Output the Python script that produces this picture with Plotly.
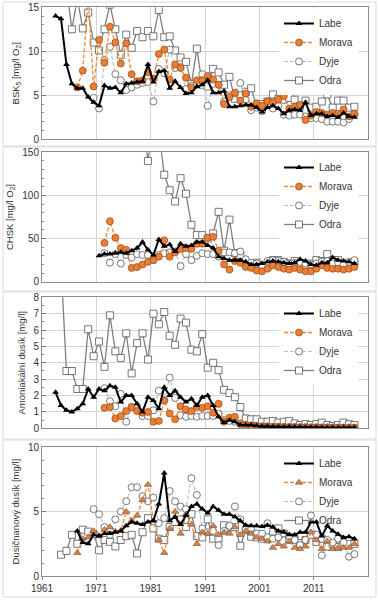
import plotly.graph_objects as go
from plotly.subplots import make_subplots

# ---------------- DATA (annual means) ----------------
series_names = ["Labe", "Morava", "Dyje", "Odra"]
x_tick_labels = ["1961", "1971", "1981", "1991", "2001", "2011"]

# Panel 1: BSK5 [mg/l O2]
bsk_labe_start = 1963
bsk_labe = [14.0, 13.7, 8.5, 6.3, 5.8, 5.8, 4.8, 4.2, 3.8, 6.1,
            5.8, 5.9, 5.3, 6.3, 6.4, 6.5, 6.6, 8.5, 6.5, 7.7,
            7.8, 5.8, 6.6, 5.9, 5.2, 5.3, 6.0, 6.2, 6.7, 5.3,
            5.3, 5.5, 3.7, 3.7, 3.8, 3.9, 3.9, 3.6, 3.1, 3.6,
            3.8, 3.5, 2.9, 3.3, 3.4, 3.3, 4.2, 2.7, 2.9, 2.9,
            2.6, 2.7, 2.5, 3.0, 2.6, 2.5]
bsk_morava_start = 1967
bsk_morava = [5.9, 7.8, 16.0, 6.0, 11.3, 8.7, 12.8, 11.0, 8.6, 10.9,
              7.4, 6.6, 6.7, 7.6, 6.9, 9.7, 10.2, 6.8, 8.5, 8.1,
              7.0, 5.9, 6.7, 6.7, 7.2, 6.8, 6.2, 4.0, 4.8, 5.3,
              4.4, 5.2, 3.7, 4.1, 3.8, 4.3, 4.2, 4.5, 4.9, 3.5,
              3.7, 3.9, 2.2, 2.7, 3.1, 3.0, 2.8, 3.0, 2.9, 3.4,
              2.6, 2.9]
bsk_dyje_start = 1970
bsk_dyje = [4.7, 3.5, 9.0, 10.5, 7.4, 6.7, 5.6, 5.9, 6.2, 6.4,
            6.5, 4.3, 8.0, 7.5, 10.2, 8.1, 8.2, 5.7, 6.1, 6.2,
            7.4, 3.8, 6.3, 6.2, 4.3, 5.0, 5.2, 6.4, 4.5, 3.3,
            3.6, 3.2, 4.0, 3.5, 3.8, 2.8, 2.7, 2.8, 2.8, 2.6,
            2.4, 2.4, 2.3, 2.0, 2.0, 2.0, 1.9, 2.3, 2.8]
bsk_odra_start = 1964
bsk_odra = [22.0, 17.0, 12.5, 16.0, 12.6, 14.4, 11.0, 10.1, 12.5, 15.3,
            12.5, 9.6, 11.9, 10.4, 12.3, 11.6, 12.3, 11.7, 14.7, 11.6,
            11.7, 10.1, 9.3, 8.8, 6.3, 10.3, 6.2, 6.0, 8.0, 7.6,
            6.2, 7.1, 4.6, 5.0, 5.4, 5.8, 3.7, 4.0, 4.3, 5.1,
            4.6, 4.5, 4.7, 4.5, 3.8, 4.4, 3.6, 3.7, 4.3, 5.1,
            3.6, 4.4, 4.4, 3.6, 3.7]

# Panel 2: CHSK [mg/l O2]
chsk_labe_start = 1971
chsk_labe = [30, 32, 32, 33, 34, 33, 36, 39, 46, 37,
             31, 49, 41, 43, 35, 44, 41, 42, 46, 46,
             42, 39, 29, 27, 25, 25, 25, 23, 20, 20,
             21, 23, 24, 23, 22, 21, 22, 26, 24, 20,
             19, 22, 22, 28, 25, 24, 23, 21]
chsk_morava_start = 1972
chsk_morava = [45, 70, 51, 39, 37, 16, 17, 20, 23, 25,
               29, 48, 29, 34, 38, 39, 38, 44, 44, 51,
               52, 36, 20, 14, 24, 22, 17, 16, 13, 12,
               15, 19, 17, 15, 14, 16, 14, 12, 12, 15,
               19, 16, 15, 15, 14, 15, 17]
chsk_dyje_start = 1972
chsk_dyje = [33, 22, 32, 21, 31, 28, 32, 31, 31, 25,
             31, 33, 34, 35, 18, 32, 25, 30, 33, 32,
             32, 29, 34, 34, 33, 35, 26, 22, 21, 19,
             24, 25, 24, 23, 21, 22, 23, 21, 20, 21,
             23, 24, 21, 22, 20, 23, 25]
chsk_odra_start = 1979
chsk_odra = [190, 140, 185, 175, 124, 106, 93, 120, 102, 66,
             54, 54, 50, 56, 81, 36, 72, 33, 31, 21,
             21, 22, 17, 17, 25, 25, 23, 21, 24, 20,
             19, 21, 25, 24, 32, 25, 25, 21, 21, 22]

# Panel 3: Amoniakální dusík [mg/l]
nh4_labe_start = 1963
nh4_labe = [2.2, 1.4, 1.1, 1.0, 1.2, 1.5, 2.4, 1.9, 2.4, 2.3,
            2.6, 2.5, 1.6, 2.0, 2.0, 1.5, 1.0, 1.9, 1.7, 1.2,
            2.5, 2.0, 2.3, 1.9, 1.6, 1.8, 1.4, 1.9, 2.0, 1.4,
            0.7, 0.35, 0.5, 0.4, 0.22, 0.2, 0.2, 0.15, 0.12, 0.12,
            0.1, 0.1, 0.08, 0.1, 0.08, 0.08, 0.07, 0.06, 0.06, 0.05,
            0.05, 0.05, 0.04, 0.05, 0.04, 0.05]
nh4_morava_start = 1972
nh4_morava = [1.25, 1.3, 0.6, 0.75, 1.05, 1.3, 1.05, 0.95, 1.0, 0.4,
              0.45, 1.7, 0.9, 0.55, 1.35, 1.15, 1.05, 1.3, 1.25, 1.35,
              0.95, 1.5, 0.4, 0.65, 0.7, 0.3, 0.2, 0.15, 0.12, 0.1,
              0.1, 0.08, 0.08, 0.07, 0.06, 0.06, 0.05, 0.05, 0.05, 0.05,
              0.04, 0.04, 0.04, 0.03, 0.03, 0.03, 0.03]
nh4_dyje_start = 1972
nh4_dyje = [2.45, 1.65, 1.35, 2.1, 0.4, 1.3, 1.3, 0.75, 0.75, 1.1,
            2.3, 1.7, 3.1, 1.85, 0.8, 0.7, 0.75, 0.7, 0.75, 0.75,
            0.75, 0.9, 0.5, 0.45, 0.4, 0.25, 0.2, 0.18, 0.15, 0.12,
            0.12, 0.1, 0.1, 0.09, 0.08, 0.08, 0.07, 0.07, 0.06, 0.06,
            0.05, 0.05, 0.05, 0.05, 0.04, 0.04, 0.04]
nh4_odra_start = 1964
nh4_odra = [10.0, 3.5, 3.5, 2.4, 2.4, 6.05, 4.4, 5.3, 3.75, 6.9,
            4.7, 4.3, 5.8, 3.35, 5.2, 5.8, 4.2, 7.0, 6.35, 7.1,
            5.65, 5.1, 6.7, 6.45, 4.8, 4.7, 5.75, 3.7, 4.0, 3.55,
            2.35, 2.15, 1.9, 1.3, 0.6, 0.55, 0.55, 0.4, 0.4, 0.45,
            0.35, 0.4, 0.45, 0.3, 0.2, 0.25, 0.2, 0.26, 0.35, 0.2,
            0.15, 0.2, 0.35, 0.25, 0.2]

# Panel 4: Dusičnanový dusík [mg/l]
no3_labe_start = 1967
no3_labe = [3.5, 2.6, 2.5, 3.2, 3.1, 3.3, 3.3, 3.4, 3.5, 3.9,
            4.2, 4.1, 4.0, 4.2, 4.3, 5.6, 8.0, 4.3, 4.6, 4.0,
            4.7, 5.4, 5.6, 5.2, 4.9, 5.4, 5.1, 4.8, 4.8, 4.6,
            4.3, 3.95, 3.9, 3.9, 3.85, 3.95, 3.8, 3.5, 3.4, 3.2,
            3.2, 3.4, 3.4, 4.2, 4.2, 3.1, 3.9, 3.5, 3.25, 3.0,
            3.05, 2.9]
no3_morava_start = 1967
no3_morava = [1.8, 2.9, 3.0, 3.5, 3.1, 3.6, 3.8, 3.45, 3.5, 5.0,
              4.3, 4.7, 5.9, 7.1, 4.3, 2.8, 1.8, 3.7, 5.0, 3.3,
              4.8, 4.0, 2.5, 3.4, 3.3, 3.9, 3.2, 3.4, 3.3, 3.8,
              3.2, 3.5, 3.3, 3.0, 2.9, 2.7, 2.2, 2.5, 2.3, 2.7,
              2.2, 2.1, 2.3, 3.4, 2.8, 2.1, 2.7, 2.1, 2.2, 2.2,
              2.2, 2.5]
no3_dyje_start = 1970
no3_dyje = [5.2, 4.8, 3.8, 3.2, 4.4, 5.0, 5.8, 6.9, 6.9, 6.2,
            5.8, 6.1, 4.1, 4.5, 6.6, 5.8, 5.4, 5.2, 7.6, 6.3,
            3.7, 3.4, 3.5, 2.4, 3.5, 3.9, 5.4, 4.4, 3.6, 3.7,
            3.3, 3.3, 4.1, 2.9, 3.0, 3.3, 3.1, 2.8, 2.4, 2.8,
            4.7, 3.2, 1.6, 2.8, 2.6, 2.9, 2.6, 1.5, 1.7]
no3_odra_start = 1964
no3_odra = [1.65, 1.95, 3.2, 2.5, 3.6, 3.45, 3.25, 2.0, 2.8, 2.65,
            2.3, 2.8, 3.1, 3.2, 1.75, 3.4, 4.5, 3.7, 2.9, 2.8,
            3.8, 4.2, 4.4, 3.8, 4.8, 3.1, 3.0, 4.4, 2.9, 2.9,
            3.95, 3.8, 3.8, 2.35, 3.55, 3.05, 3.0, 2.9, 3.0, 3.45,
            3.7, 3.3, 2.8, 2.85, 2.55, 2.8, 3.2, 2.65, 2.9, 2.3,
            2.5, 2.25, 2.5, 2.5, 2.5]

# ---------------- FIGURE ----------------
W, H = 379, 600
ML, MR, MT, MB = 42, 11, 7, 24
PW, PH = W - ML - MR, H - MT - MB


def px_x(px):
    return (px - ML) / PW


def px_y(py):
    return 1 - (py - MT) / PH


panels = [
    dict(data={"Labe": (bsk_labe_start, bsk_labe), "Morava": (bsk_morava_start, bsk_morava),
               "Dyje": (bsk_dyje_start, bsk_dyje), "Odra": (bsk_odra_start, bsk_odra)},
         title="BSK<sub>5</sub> [mg/l O<sub>2</sub>]", yrange=[0, 15], dtick=5, minor=1,
         top=7.3, bottom=139.3, legend_top=9),
    dict(data={"Labe": (chsk_labe_start, chsk_labe), "Morava": (chsk_morava_start, chsk_morava),
               "Dyje": (chsk_dyje_start, chsk_dyje), "Odra": (chsk_odra_start, chsk_odra)},
         title="CHSK [mg/l O<sub>2</sub>]", yrange=[0, 150], dtick=50, minor=10,
         top=152.3, bottom=281.7, legend_top=153),
    dict(data={"Labe": (nh4_labe_start, nh4_labe), "Morava": (nh4_morava_start, nh4_morava),
               "Dyje": (nh4_dyje_start, nh4_dyje), "Odra": (nh4_odra_start, nh4_odra)},
         title="Amoniakální dusík [mg/l]", yrange=[0, 8], dtick=1, minor=0.5,
         top=297.3, bottom=428.3, legend_top=299),
    dict(data={"Labe": (no3_labe_start, no3_labe), "Morava": (no3_morava_start, no3_morava),
               "Dyje": (no3_dyje_start, no3_dyje), "Odra": (no3_odra_start, no3_odra)},
         title="Dusičnanový dusík [mg/l]", yrange=[0, 10], dtick=5, minor=1,
         top=447.3, bottom=576, legend_top=449),
]

ORANGE = "#EE7D31"


def style(name, panel_idx):
    if name == "Labe":
        return dict(line=dict(color="black", width=2),
                    marker=dict(symbol="triangle-up", size=6, color="black"))
    if name == "Morava":
        sym = "triangle-up" if panel_idx == 3 else "circle"
        return dict(line=dict(color="#F0893A", width=1.3, dash="4px,2px"),
                    marker=dict(symbol=sym, size=7 if sym == "circle" else 6.5, color=ORANGE,
                                line=dict(color="#8C4A1E" if sym == "circle" else "#666666", width=0.7)))
    if name == "Dyje":
        return dict(line=dict(color="#BFBFBF", width=1.2, dash="4px,2px"),
                    marker=dict(symbol="circle", size=7, color="white",
                                line=dict(color="#555555", width=0.8)))
    return dict(line=dict(color="#7F7F7F", width=1.3),
                marker=dict(symbol="square", size=7, color="white",
                            line=dict(color="#555555", width=0.8)))


fig = make_subplots(rows=4, cols=1)
draw_order = ["Odra", "Dyje", "Morava", "Labe"]
FONT = "Liberation Sans, Arial, sans-serif"

for i, p in enumerate(panels):
    legend_id = "legend" if i == 0 else f"legend{i + 1}"
    for name in draw_order:
        start, vals = p["data"][name]
        years = list(range(start, start + len(vals)))
        xs = [y + 0.5 for y in years]  # annual value plotted at mid-year
        fig.add_trace(go.Scatter(x=xs, y=vals, mode="lines+markers", name=name,
                                 legend=legend_id, legendrank=series_names.index(name) + 1,
                                 cliponaxis=True, **style(name, i)),
                      row=i + 1, col=1)

    ax = "" if i == 0 else str(i + 1)
    fig.layout["yaxis" + ax].update(
        domain=[px_y(p["bottom"]), px_y(p["top"])], range=p["yrange"], dtick=p["dtick"],
        automargin=False,
        showgrid=True, gridcolor="#D4D4D4", gridwidth=1, zeroline=False,
        showline=True, mirror=True, linecolor="#8C8C8C", linewidth=1,
        ticks="inside", ticklen=4, tickcolor="#777777",
        minor=dict(dtick=p["minor"], ticks="inside", ticklen=2, tickcolor="#888888", showgrid=False),
        tickfont=dict(size=10, color="#333333", family=FONT),
        title=dict(text=p["title"], font=dict(size=9.5, color="#333333", family=FONT), standoff=6),
    )
    fig.layout["xaxis" + ax].update(
        domain=[0, 1], range=[1961, 2021], automargin=False,
        tickvals=[int(t) for t in x_tick_labels], ticktext=x_tick_labels,
        showticklabels=(i == 3), showgrid=True, gridcolor="#D4D4D4", gridwidth=1,
        zeroline=False, showline=True, mirror=True, linecolor="#8C8C8C", linewidth=1,
        ticks="outside" if i == 3 else "", ticklen=3, tickcolor="#888888",
        tickfont=dict(size=10, color="#333333", family=FONT),
    )
    fig.layout[legend_id] = dict(
        x=px_x(279), y=px_y(p["legend_top"]), xanchor="left", yanchor="top",
        bgcolor="white" if i < 3 else "rgba(255,255,255,0)", borderwidth=0,
        font=dict(size=10, color="#333333", family=FONT), itemwidth=30,
        tracegroupgap=0,
    )

# light panel frames
for (y0, y1) in [(2, 146), (147, 291), (292, 439), (440, 597)]:
    fig.add_shape(type="rect", xref="paper", yref="paper",
                  x0=px_x(3), x1=px_x(376), y0=px_y(y1), y1=px_y(y0),
                  line=dict(color="#D9D9D9", width=1), fillcolor="rgba(0,0,0,0)", layer="below")

fig.update_layout(
    width=W, height=H, margin=dict(l=ML, r=MR, t=MT, b=MB, autoexpand=False),
    paper_bgcolor="white", plot_bgcolor="white",
    font=dict(family=FONT, size=10, color="#333333"),
)

fig.write_html("out.html", config={"displayModeBar": False},
               post_script="document.body.style.margin='0px';document.body.style.padding='0px';")
